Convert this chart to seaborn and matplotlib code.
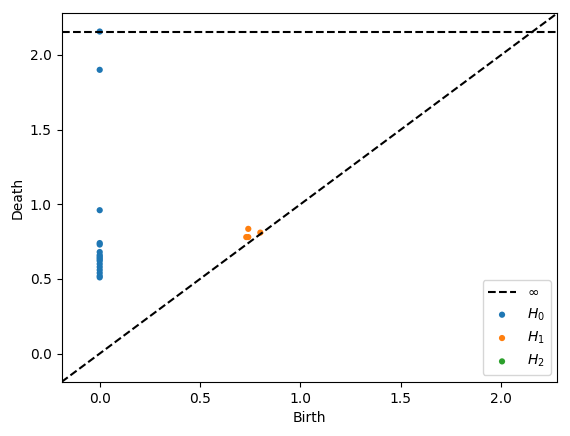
import numpy as np
import pandas as pd
import matplotlib
matplotlib.use("Agg")
import matplotlib.pyplot as plt
import seaborn as sns

# persistence diagram values
h0_birth = [0.0] * 17
h0_death = [np.inf, 1.90, 0.96, 0.74, 0.73, 0.68, 0.66, 0.65, 0.64, 0.63,
            0.62, 0.60, 0.58, 0.56, 0.54, 0.52, 0.51]
h1_birth = [0.73, 0.74, 0.74, 0.80]
h1_death = [0.78, 0.78, 0.835, 0.81]
h2_birth = []
h2_death = []

# same limits as persim's plot_diagrams
finite = np.array([v for v in h0_birth + h0_death + h1_birth + h1_death if np.isfinite(v)])
ax_min, ax_max = finite.min(), finite.max()
x_r = ax_max - ax_min
buffer = x_r / 5
x_down = ax_min - buffer / 2
x_up = ax_max + buffer
b_inf = x_down + (x_up - x_down) * 0.95

h0 = pd.DataFrame({'birth': h0_birth, 'death': h0_death})
h0['death'] = h0['death'].replace(np.inf, b_inf)
h1 = pd.DataFrame({'birth': h1_birth, 'death': h1_death})

fig, ax = plt.subplots(figsize=(5.7, 4.36), dpi=100)
fig.subplots_adjust(left=0.108, right=0.978, top=0.970, bottom=0.124)

ax.plot([x_down, x_up], [x_down, x_up], "--", c="k")
ax.plot([x_down, x_up], [b_inf, b_inf], "--", c="k", label=r"$\infty$")

sns.scatterplot(data=h0, x='birth', y='death', s=20, color='C0', edgecolor='none',
                label=r"$H_0$", ax=ax)
sns.scatterplot(data=h1, x='birth', y='death', s=20, color='C1', edgecolor='none',
                label=r"$H_1$", ax=ax)
ax.scatter(h2_birth, h2_death, s=20, color='C2', edgecolor='none', label=r"$H_2$")

ax.set_xlim([x_down, x_up])
ax.set_ylim([x_down, x_up])
ax.set_xlabel('Birth')
ax.set_ylabel('Death')
ax.legend(loc='lower right')

plt.savefig('out.png', dpi=100)
